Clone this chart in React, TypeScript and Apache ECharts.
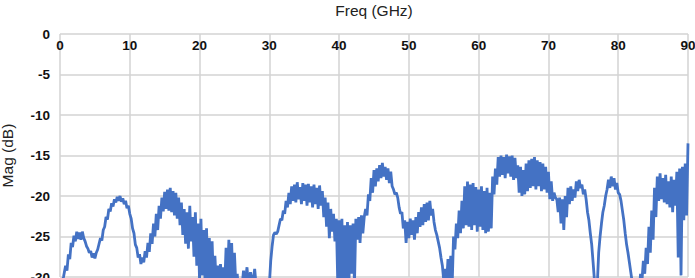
import React, { useEffect, useRef } from "react";
import * as echarts from "echarts";

const xTickValues = [0, 10, 20, 30, 40, 50, 60, 70, 80, 90];
const yTickValues = [0, -5, -10, -15, -20, -25, -30];

// [GHz, dB], segment by segment
const band0to10: number[][] = [
  [0.2, -31], [0.5, -30], [0.8, -28.6], [1.0, -29.2], [1.2, -27.2], [1.4, -27.8], [1.6, -25.8], [1.8, -26.3],
  [2.0, -24.9], [2.2, -25.6], [2.4, -24.4], [2.6, -25.3], [2.8, -24.5], [3.0, -25.4], [3.2, -24.4], [3.4, -25.2],
  [3.6, -25.6], [3.8, -26.2], [4.0, -26.5], [4.2, -27.0], [4.4, -26.8], [4.6, -27.6], [4.8, -27.1], [5.0, -27.7],
  [5.2, -27.0], [5.4, -26.6], [5.6, -25.9], [5.8, -25.2], [6.0, -25.5], [6.2, -24.2], [6.4, -23.8], [6.6, -22.6],
  [6.8, -22.9], [7.0, -21.6], [7.2, -21.9], [7.4, -20.9], [7.6, -21.3], [7.8, -20.4], [8.0, -20.8], [8.2, -20.1],
  [8.4, -20.6], [8.6, -20.0], [8.8, -20.7], [9.0, -20.3], [9.2, -21.0], [9.4, -20.6], [9.6, -21.5], [9.8, -21.2],
  [10.0, -22.2],
];

const band10to30: number[][] = [
  [10.2, -22.8], [10.4, -24.0], [10.6, -24.6], [10.8, -26.0], [11.0, -26.4], [11.2, -27.6], [11.4, -27.2], [11.6, -28.4],
  [11.8, -27.6], [12.0, -28.2], [12.2, -26.8], [12.4, -27.6], [12.6, -25.8], [12.8, -26.9], [13.0, -24.6], [13.2, -25.9],
  [13.4, -23.4], [13.6, -25.0], [13.8, -22.2], [14.0, -24.2], [14.2, -21.2], [14.4, -22.8], [14.6, -20.2], [14.8, -21.9],
  [15.0, -19.5], [15.2, -21.6], [15.4, -19.2], [15.6, -21.8], [15.8, -19.0], [16.0, -22.0], [16.2, -19.4], [16.4, -22.4],
  [16.6, -19.6], [16.8, -22.8], [17.0, -20.2], [17.2, -23.6], [17.4, -20.8], [17.6, -24.8], [17.8, -21.6], [18.0, -25.9],
  [18.2, -22.0], [18.4, -26.5], [18.6, -21.2], [18.8, -25.6], [19.0, -22.6], [19.2, -27.5], [19.4, -22.0], [19.6, -28.6],
  [19.8, -23.4], [20.0, -30.5], [20.2, -22.8], [20.4, -29.8], [20.6, -24.2], [20.8, -31], [21.0, -24.0], [21.2, -30.8],
  [21.4, -25.2], [21.6, -31], [21.8, -25.6], [22.0, -31], [22.2, -27.4], [22.4, -31], [22.6, -28.6], [22.8, -31],
  [23.0, -28.4], [23.2, -31], [23.4, -28.8], [23.6, -31], [23.8, -26.4], [24.0, -30.5], [24.2, -25.4], [24.4, -31],
  [24.6, -25.8], [24.8, -31], [25.0, -27.0], [25.2, -31], [25.4, -29.6], [25.6, -32], [26.0, -32], [26.3, -29.2],
  [26.5, -31], [26.8, -28.8], [27.0, -31], [27.3, -29.4], [27.6, -31], [27.9, -29.0], [28.2, -32], [29.0, -34],
  [29.8, -32],
];

const band30to50: number[][] = [
  [30.0, -31], [30.2, -28.0], [30.4, -26.2], [30.6, -24.8], [30.8, -24.5], [31.0, -24.7], [31.2, -24.4], [31.4, -23.6],
  [31.6, -22.8], [31.8, -23.0], [32.0, -21.8], [32.2, -22.2], [32.4, -20.6], [32.6, -21.4], [32.8, -19.6], [33.0, -21.0],
  [33.2, -18.8], [33.4, -20.6], [33.6, -18.6], [33.8, -20.8], [34.0, -18.3], [34.2, -20.4], [34.4, -18.9], [34.6, -21.0],
  [34.8, -18.4], [35.0, -20.6], [35.2, -18.6], [35.4, -21.2], [35.6, -18.5], [35.8, -20.8], [36.0, -18.8], [36.2, -21.4],
  [36.4, -18.6], [36.6, -21.0], [36.8, -19.0], [37.0, -21.6], [37.2, -18.7], [37.4, -21.2], [37.6, -19.4], [37.8, -22.6],
  [38.0, -20.2], [38.2, -23.8], [38.4, -20.8], [38.6, -25.2], [38.8, -21.6], [39.0, -24.4], [39.2, -22.2], [39.4, -25.6],
  [39.6, -22.8], [39.8, -30.5], [40.0, -23.0], [40.2, -31], [40.4, -22.8], [40.6, -31], [40.8, -23.6], [41.0, -30.8],
  [41.2, -23.2], [41.4, -31], [41.6, -23.6], [41.8, -29.6], [42.0, -23.4], [42.2, -31], [42.4, -22.8], [42.6, -25.4],
  [42.8, -22.6], [43.0, -25.8], [43.2, -22.4], [43.4, -24.6], [43.6, -22.6], [43.8, -21.6], [44.0, -22.4], [44.2, -19.8],
  [44.4, -20.6], [44.6, -17.8], [44.8, -19.6], [45.0, -16.8], [45.2, -18.8], [45.4, -16.6], [45.6, -18.2], [45.8, -16.2],
  [46.0, -17.8], [46.2, -15.9], [46.4, -17.6], [46.6, -16.4], [46.8, -18.0], [47.0, -16.6], [47.2, -18.4], [47.4, -17.0],
  [47.6, -18.8], [47.8, -19.2], [48.0, -19.8], [48.2, -19.6], [48.4, -20.2], [48.6, -21.4], [48.8, -22.2], [49.0, -22.0],
  [49.2, -24.0], [49.4, -23.0], [49.6, -25.8], [49.8, -23.2], [50.0, -25.2],
];

const band50to70: number[][] = [
  [50.2, -22.8], [50.4, -24.8], [50.6, -23.0], [50.8, -25.4], [51.0, -22.6], [51.2, -24.6], [51.4, -22.0], [51.6, -23.8],
  [51.8, -21.4], [52.0, -23.6], [52.2, -21.0], [52.4, -23.2], [52.6, -20.8], [52.8, -23.0], [53.0, -20.6], [53.2, -22.4],
  [53.4, -21.6], [53.6, -23.2], [53.8, -24.2], [54.0, -24.8], [54.2, -25.6], [54.4, -26.4], [54.6, -27.6], [54.8, -28.6],
  [55.0, -30.5], [55.2, -29.0], [55.4, -31], [55.6, -27.8], [55.8, -31], [56.0, -27.4], [56.2, -31], [56.4, -25.0],
  [56.6, -26.6], [56.8, -23.4], [57.0, -25.2], [57.2, -21.8], [57.4, -24.6], [57.6, -20.6], [57.8, -24.0], [58.0, -18.8],
  [58.2, -23.6], [58.4, -18.2], [58.6, -23.8], [58.8, -18.6], [59.0, -24.2], [59.2, -18.4], [59.4, -23.6], [59.6, -18.9],
  [59.8, -24.4], [60.0, -19.2], [60.2, -23.8], [60.4, -18.8], [60.6, -24.2], [60.8, -19.4], [61.0, -24.6], [61.2, -19.0],
  [61.4, -24.4], [61.6, -19.6], [61.8, -24.0], [62.0, -17.6], [62.2, -19.8], [62.4, -16.6], [62.6, -18.6], [62.8, -15.2],
  [63.0, -17.6], [63.2, -15.0], [63.4, -17.4], [63.6, -15.2], [63.8, -17.8], [64.0, -14.9], [64.2, -17.2], [64.4, -15.1],
  [64.6, -17.6], [64.8, -15.0], [65.0, -18.0], [65.2, -15.3], [65.4, -17.8], [65.6, -16.2], [65.8, -19.6], [66.0, -16.4],
  [66.2, -20.0], [66.4, -16.8], [66.6, -19.8], [66.8, -16.0], [67.0, -19.4], [67.2, -15.6], [67.4, -19.0], [67.6, -15.4],
  [67.8, -18.8], [68.0, -15.2], [68.2, -19.2], [68.4, -15.6], [68.6, -18.8], [68.8, -15.8], [69.0, -19.4], [69.2, -16.0],
  [69.4, -19.2], [69.6, -16.4], [69.8, -19.6], [70.0, -17.0],
];

const band70to90: number[][] = [
  [70.2, -20.4], [70.4, -18.2], [70.6, -20.6], [70.8, -19.6], [71.0, -20.2], [71.2, -20.4], [71.4, -22.0], [71.6, -20.2],
  [71.8, -23.4], [72.0, -20.4], [72.2, -24.2], [72.4, -20.0], [72.6, -22.6], [72.8, -19.0], [73.0, -21.0], [73.2, -18.8],
  [73.4, -20.6], [73.6, -19.2], [73.8, -20.2], [74.0, -18.2], [74.2, -19.4], [74.4, -18.0], [74.6, -19.0], [74.8, -18.6],
  [75.0, -19.8], [75.2, -19.2], [75.4, -20.4], [75.6, -22.0], [75.8, -23.0], [76.0, -24.6], [76.2, -26.0], [76.4, -28.2],
  [76.6, -30.5], [76.8, -32], [77.0, -31], [77.2, -27.0], [77.4, -25.0], [77.6, -23.4], [77.8, -22.0], [78.0, -21.2],
  [78.2, -20.0], [78.4, -19.2], [78.6, -18.0], [78.8, -19.0], [79.0, -17.6], [79.2, -18.8], [79.4, -17.8], [79.6, -19.2],
  [79.8, -18.4], [80.0, -19.6], [80.2, -19.8], [80.4, -20.6], [80.6, -21.8], [80.8, -23.0], [81.0, -24.6], [81.2, -26.0],
  [81.4, -27.0], [81.6, -28.2], [81.8, -29.4], [82.0, -30.6], [82.4, -32], [83.0, -32], [83.2, -29.6], [83.4, -30.5],
  [83.6, -28.0], [83.8, -29.6], [84.0, -26.4], [84.2, -28.4], [84.4, -23.8], [84.6, -27.0], [84.8, -21.8], [85.0, -25.4],
  [85.2, -19.0], [85.4, -22.6], [85.6, -17.6], [85.8, -20.6], [86.0, -17.2], [86.2, -20.4], [86.4, -17.8], [86.6, -20.8],
  [86.8, -17.4], [87.0, -21.0], [87.2, -18.2], [87.4, -21.4], [87.6, -17.6], [87.8, -22.0], [88.0, -18.0], [88.2, -21.2],
  [88.4, -17.0], [88.6, -27.6], [88.8, -16.6], [89.0, -29.8], [89.2, -16.4], [89.4, -23.0], [89.6, -16.0], [89.8, -22.4],
  [90.0, -13.5],
];

const magData = [...band0to10, ...band10to30, ...band30to50, ...band50to70, ...band70to90];

export default function App() {
  const ref = useRef<HTMLDivElement>(null);
  useEffect(() => {
    if (!ref.current) return;
    const chart = echarts.init(ref.current, null, { renderer: "svg" });
    const font = "'Liberation Sans', Arial, Helvetica, sans-serif";
    chart.setOption({
      animation: false,
      backgroundColor: "#ffffff",
      grid: { left: 60, right: 7, top: 34, bottom: 1, containLabel: false, outerBoundsMode: "none" },
      xAxis: {
        type: "value",
        position: "top",
        min: xTickValues[0],
        max: xTickValues[xTickValues.length - 1],
        interval: 10,
        name: "Freq (GHz)",
        nameLocation: "middle",
        nameGap: 16,
        nameTextStyle: { fontFamily: font, fontSize: 15.5, color: "#222" },
        axisLine: { show: false },
        axisTick: { show: false },
        axisLabel: {
          inside: true,
          margin: 11,
          fontFamily: font,
          fontSize: 13.5,
          fontWeight: "bold",
          color: "#111",
          verticalAlign: "middle",
          showMaxLabel: true,
          showMinLabel: true,
        },
        splitLine: { show: true, lineStyle: { color: "#d3d3d3", width: 1.5 } },
      },
      yAxis: {
        type: "value",
        min: yTickValues[yTickValues.length - 1],
        max: yTickValues[0],
        interval: 5,
        name: "Mag (dB)",
        nameLocation: "middle",
        nameGap: 45,
        nameTextStyle: { fontFamily: font, fontSize: 15.5, color: "#222" },
        axisLine: { show: false },
        axisTick: { show: false },
        axisLabel: {
          margin: 10,
          fontFamily: font,
          fontSize: 13.5,
          fontWeight: "bold",
          color: "#111",
        },
        splitLine: { show: true, lineStyle: { color: "#d3d3d3", width: 1.5 } },
      },
      series: [
        {
          type: "line",
          data: magData,
          showSymbol: false,
          clip: true,
          lineStyle: { color: "#4472c4", width: 2.8 },
          itemStyle: { color: "#4472c4" },
        },
      ],
    });
    return () => chart.dispose();
  }, []);
  return (
    <div
      ref={ref}
      style={{ position: "absolute", left: 0, top: 0, width: 695, height: 278 }}
    />
  );
}
